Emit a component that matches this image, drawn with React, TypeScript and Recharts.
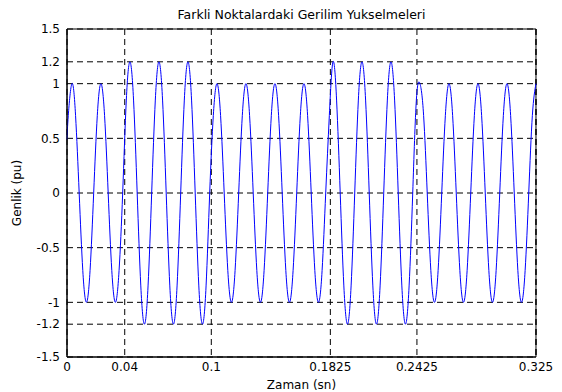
import {
  LineChart, Line, XAxis, YAxis, CartesianGrid, ReferenceArea,
} from 'recharts';

const genlik = [
  0.49, 0.71,
  1, 0.71, 0, -0.71, -1, -0.71, 0, 0.71,
  1, 0.71, 0, -0.71, -1, -0.71, 0, 0.85,
  1.2, 0.85, 0, -0.85, -1.2, -0.85, 0, 0.85,
  1.2, 0.85, 0, -0.85, -1.2, -0.85, 0, 0.85,
  1.2, 0.85, 0, -0.85, -1.2, -0.85, 0, 0.71,
  1, 0.71, 0, -0.71, -1, -0.71, 0, 0.71,
  1, 0.71, 0, -0.71, -1, -0.71, 0, 0.71,
  1, 0.71, 0, -0.71, -1, -0.71, 0, 0.71,
  1, 0.71, 0, -0.71, -1, -0.71, 0, 0.71,
  1.2, 0.85, 0, -0.85, -1.2, -0.85, 0, 0.85,
  1.2, 0.85, 0, -0.85, -1.2, -0.85, 0, 0.85,
  1.2, 0.85, 0, -0.85, -1.2, -0.85, 0, 0.85,
  1, 0.71, 0, -0.71, -1, -0.71, 0, 0.71,
  1, 0.71, 0, -0.71, -1, -0.71, 0, 0.71,
  1, 0.71, 0, -0.71, -1, -0.71, 0, 0.71,
  1, 0.71, 0, -0.71, -1, -0.71, 0, 0.71,
  1,
];

// sample grid: first point at t=0, then a fixed step of 1/8 period
const SAMPLE_T0 = 0.0009;
const SAMPLE_DT = 0.0025125;
const zaman = genlik.map((_, i) => (i === 0 ? 0 : SAMPLE_T0 + (i - 1) * SAMPLE_DT));

const xTicks = [0, 0.04, 0.1, 0.1825, 0.2425, 0.325];
const yTicks = [-1.5, -1.2, -1, -0.5, 0, 0.5, 1, 1.2, 1.5];

const data = genlik.map((v, i) => ({ t: zaman[i], v }));

const FONT = '"DejaVu Sans", Verdana, sans-serif';

export default function App() {
  return (
    <div style={{ position: 'absolute', left: 0, top: 0, width: 562, height: 392, background: '#fff', fontFamily: FONT }}>
      <div style={{ position: 'absolute', left: 67, width: 469, top: 7, textAlign: 'center', fontSize: 12.5, lineHeight: '15px', color: '#000' }}>
        Farkli Noktalardaki Gerilim Yukselmeleri
      </div>
      <LineChart width={562} height={392} data={data} margin={{ top: 29, right: 26, bottom: 0, left: 0 }}>
        <CartesianGrid stroke="#000" strokeDasharray="6 4" />
        <XAxis
          dataKey="t"
          type="number"
          domain={[0, 0.325]}
          ticks={xTicks}
          interval={0}
          height={35}
          stroke="#000"
          tickLine={false}
          tickSize={0}
          tickMargin={5}
          tick={{ fill: '#000', fontSize: 12, fontFamily: FONT }}
          label={{ value: 'Zaman (sn)', position: 'insideBottom', offset: 3, fill: '#000', fontSize: 12, fontFamily: FONT }}
        />
        <YAxis
          type="number"
          domain={[-1.5, 1.5]}
          ticks={yTicks}
          interval={0}
          width={67}
          stroke="#000"
          tickLine={false}
          tickSize={0}
          tickMargin={7}
          tick={{ fill: '#000', fontSize: 12, fontFamily: FONT }}
          label={{ value: 'Genlik (pu)', angle: -90, position: 'insideLeft', offset: 17, fill: '#000', fontSize: 12, fontFamily: FONT, style: { textAnchor: 'middle' } }}
        />
        <ReferenceArea x1={0} x2={0.325} y1={-1.5} y2={1.5} fill="none" stroke="#000" strokeWidth={1} />
        <Line
          type="natural"
          dataKey="v"
          stroke="#0000ff"
          strokeWidth={1}
          dot={false}
          isAnimationActive={false}
        />
      </LineChart>
    </div>
  );
}
